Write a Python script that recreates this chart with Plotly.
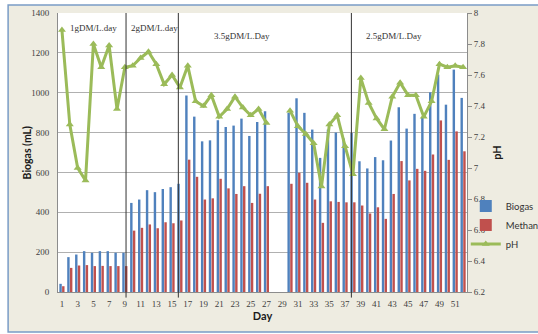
import plotly.graph_objects as go

# Daily digester readings
days = list(range(1, 53))
biogas = [41, 175, 188, 205, 197, 205, 205, 197, 197,
          447, 464, 511, 501, 517, 526, 543,
          986, 880, 756, 761, 862, 828, 835, 870, 783, 853, 907,
          None, None,
          900, 972, 899, 815, 673, 815, 800, 770,
          798, 656, 620, 677, 661, 760, 927, 820, 894, 875, 1002, 1091, 940, 1116, 974]
methane = [29, 121, 133, 135, 130, 131, 130, 130, 130,
           308, 322, 339, 320, 350, 345, 359,
           664, 578, 464, 470, 568, 520, 492, 531, 447, 493, 531,
           None, None,
           543, 598, 548, 464, 347, 455, 452, 450,
           450, 434, 394, 425, 367, 492, 657, 560, 618, 608, 690, 861, 663, 806, 706]
ph = [7.89, 7.28, 7.00, 6.92, 7.80, 7.65, 7.79, 7.38, 7.65,
      7.66, 7.71, 7.75, 7.67, 7.54, 7.60, 7.52,
      7.66, 7.43, 7.40, 7.47, 7.33, 7.38, 7.46, 7.39, 7.34, 7.38, 7.29,
      None, None,
      7.37, 7.27, 7.22, 7.16, 6.88, 7.28, 7.34, 7.14,
      6.96, 7.58, 7.42, 7.32, 7.25, 7.46, 7.55, 7.47, 7.47, 7.33, 7.43, 7.67, 7.65, 7.66, 7.65]

# Organic loading rate phases: label, label centre (day), boundary after phase (day)
phase_labels = ["1gDM/L.day", "2gDM/L.day", "3.5gDM/L.Day", "2.5gDM/L.Day"]
phase_label_days = [5.0, 12.8, 23.9, 43.2]
phase_label_levels = [1325, 1325, 1285, 1285]
phase_bounds = [9.15, 15.8, 37.8]

xticks = list(range(1, 53, 2))
left_ticks = list(range(0, 1401, 200))
ph_ticks = [6.2, 6.4, 6.6, 6.8, 7.0, 7.2, 7.4, 7.6, 7.8, 8.0]
ph_tick_text = ["6.2", "6.4", "6.6", "6.8", "7", "7.2", "7.4", "7.6", "7.8", "8"]

BLUE = "#4f81bd"
RED = "#c0504d"
GREEN = "#9bbb59"
GRID = "#b0b0b0"
AXIS = "#8c8c8c"
TICKFONT = dict(family="Liberation Serif", size=9, color="#404040")
TITLEFONT = dict(family="Lato", size=11, color="#1a1a1a")

fig = go.Figure()
fig.add_trace(go.Bar(x=days, y=biogas, name="Biogas", marker=dict(color=BLUE, line_width=0)))
fig.add_trace(go.Bar(x=days, y=methane, name="Methane", marker=dict(color=RED, line_width=0)))
fig.add_trace(go.Scatter(
    x=days, y=ph, name="pH", yaxis="y2", mode="lines+markers",
    line=dict(color=GREEN, width=3), connectgaps=False,
    marker=dict(symbol="triangle-up", size=7, color=GREEN),
))

shapes = [
    # outer chart frame
    dict(type="rect", xref="paper", yref="paper", x0=-0.122, x1=1.25, y0=-0.143, y1=1.029,
         fillcolor="#eeece1", line=dict(color="#7a9cc6", width=1.5), layer="below"),
    # white plot area
    dict(type="rect", xref="paper", yref="paper", x0=0, x1=1, y0=0, y1=1,
         fillcolor="white", line_width=0, layer="below"),
]
for b in phase_bounds:
    shapes.append(dict(type="line", xref="x", yref="paper", x0=b, x1=b, y0=-0.02, y1=1,
                       line=dict(color="#333333", width=1)))

annotations = [
    dict(x=d, y=lv, xref="x", yref="y", text=t, showarrow=False, xanchor="center",
         font=dict(family="Liberation Serif", size=9, color="#333333"))
    for t, d, lv in zip(phase_labels, phase_label_days, phase_label_levels)
]
# left axis title
annotations.append(dict(x=-0.076, y=0.5, xref="paper", yref="paper", text="<b>Biogas (mL)</b>",
                        xanchor="center", yanchor="middle",
                        textangle=-90, showarrow=False,
                        font=dict(family="Lato", size=10.5, color="#1a1a1a")))

fig.update_layout(
    width=538, height=334,
    margin=dict(l=58, r=71, t=13, b=42, autoexpand=False),
    paper_bgcolor="white", plot_bgcolor="white",
    barmode="group", bargap=0.3, bargroupgap=0.12,
    shapes=shapes, annotations=annotations,
    showlegend=True,
    legend=dict(x=0.997, y=0.36, xanchor="left", yanchor="top",
                bgcolor="rgba(0,0,0,0)", font=dict(family="Lato", size=9.5, color="#333333"),
                tracegroupgap=0, itemwidth=30),
    xaxis=dict(range=[0.5, 52.5], tickmode="array", tickvals=xticks,
               showgrid=False, zeroline=False, showline=True, linecolor=AXIS,
               ticks="", tickfont=TICKFONT, ticklabelstandoff=3,
               title=dict(text="<b>Day</b>", font=TITLEFONT, standoff=4)),
    yaxis=dict(range=[0, 1400], tickmode="array", tickvals=left_ticks,
               showgrid=True, gridcolor=GRID, gridwidth=1, zeroline=False,
               showline=True, linecolor=AXIS, ticks="", tickfont=TICKFONT,
               ticklabelstandoff=6),
    yaxis2=dict(range=[6.2, 8.0], overlaying="y", side="right",
                tickmode="array", tickvals=ph_ticks, ticktext=ph_tick_text,
                showgrid=False, zeroline=False, showline=True, linecolor=AXIS,
                ticks="outside", ticklen=4, tickcolor=AXIS, tickfont=TICKFONT,
                title=dict(text="<b>pH</b>", font=TITLEFONT, standoff=8)),
)

fig.write_html("out.html")
